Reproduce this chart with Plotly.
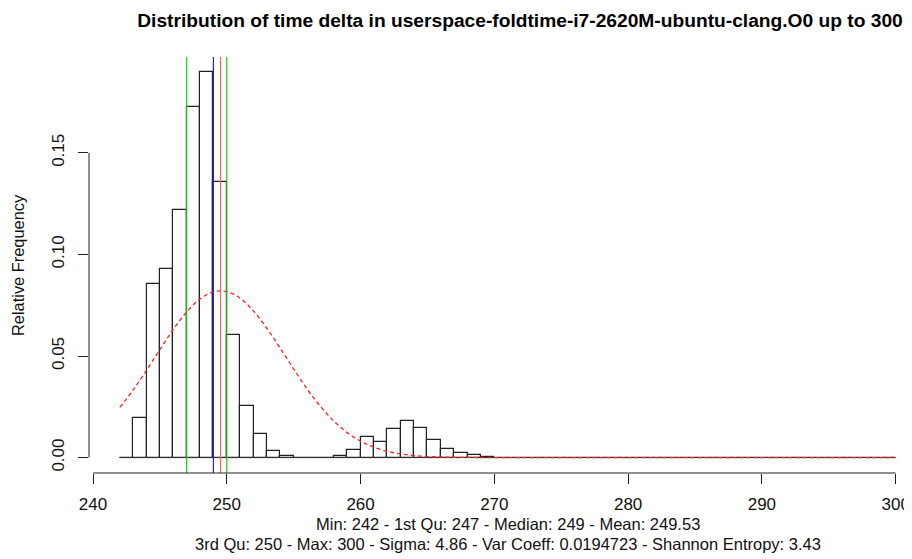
import plotly.graph_objects as go

# ---- data ----
bin_left = list(range(242, 300))          # histogram bins [a, a+1)
rel_freq = [0.0, 0.0193, 0.0855, 0.0928, 0.1217, 0.1724, 0.1896, 0.1356,
            0.0604, 0.0252, 0.0116, 0.0033, 0.0008, 0.0, 0.0, 0.0,
            0.0010, 0.0038, 0.0103, 0.0079, 0.0141, 0.0180, 0.0146, 0.0088,
            0.0043, 0.0025, 0.0013, 0.0003] + [0.0] * 30
bin_edges = bin_left + [bin_left[-1] + 1]

curve_x = [242, 243, 244, 245, 246, 247, 248, 249, 250, 251, 252, 253, 254,
           255, 256, 257, 258, 259, 260, 261, 262, 263, 264, 265, 266, 267,
           268, 270, 280, 300]
curve_y = [0.0247, 0.0333, 0.0430, 0.0532, 0.0631, 0.0717, 0.0781, 0.0816,
           0.0817, 0.0784, 0.0721, 0.0636, 0.0538, 0.0436, 0.0338, 0.0252,
           0.0180, 0.0123, 0.0081, 0.0051, 0.0031, 0.0018, 0.0010, 0.0005,
           0.0003, 0.0001, 0.0001, 0.0, 0.0, 0.0]

q1, median, mean, q3 = 247, 249, 249.53, 250

x_ticks = [240, 250, 260, 270, 280, 290, 300]
y_ticks = [0.0, 0.05, 0.10, 0.15]
y_tick_text = ["0.00", "0.05", "0.10", "0.15"]

title = "Distribution of time delta in userspace-foldtime-i7-2620M-ubuntu-clang.O0 up to 300"
sub1 = "Min: 242 - 1st Qu: 247 - Median: 249 - Mean: 249.53"
sub2 = "3rd Qu: 250 - Max: 300 - Sigma: 4.86 - Var Coeff: 0.0194723 - Shannon Entropy: 3.43"

FONT = "Liberation Sans"
# page body has an 8px margin, so the figure is sized/positioned to compensate
W, H = 904, 551
L, R_, T, B = 81, 0, 49, 86
PW, PH = W - L - R_, H - T - B
BOTTOM = H - B

fig = go.Figure()

# zero-height bins drawn as a baseline (as R does)
fig.add_trace(go.Scatter(x=[bin_edges[0], bin_edges[-1]], y=[0, 0], mode="lines",
                         line=dict(color="#333333", width=1), hoverinfo="skip",
                         showlegend=False))
fig.add_trace(go.Bar(x=bin_left, y=rel_freq, offset=0, width=1,
                     marker=dict(color="white", line=dict(color="#222222", width=1.2)),
                     showlegend=False))
fig.add_trace(go.Scatter(x=curve_x, y=curve_y, mode="lines",
                         line=dict(color="#ff2020", width=1.3, dash="4px,3px", shape="spline"),
                         showlegend=False))

for xv, col in [(q1, "#10d010"), (q3, "#10d010"), (median, "#2020ff"), (mean, "#ff6060")]:
    fig.add_shape(type="line", xref="x", yref="paper", x0=xv, x1=xv, y0=0, y1=1,
                  line=dict(color=col, width=1.2))

# R-style axis lines spanning only the tick range
fig.add_shape(type="line", xref="x", yref="paper", x0=x_ticks[0], x1=x_ticks[-1],
              y0=0, y1=0, line=dict(color="#222222", width=1))
fig.add_shape(type="line", xref="paper", yref="y", x0=0, x1=0,
              y0=y_ticks[0], y1=y_ticks[-1], line=dict(color="#222222", width=1))

fig.update_layout(
    width=W, height=H,
    margin=dict(l=L, r=R_, t=T, b=B),
    paper_bgcolor="white", plot_bgcolor="white",
    font=dict(family=FONT, color="#111111", size=16.5),
    bargap=0,
    title=dict(text="<b>" + title + "</b>", x=512 / W, xanchor="center",
               xref="container", y=1 - 12 / H, yanchor="middle", yref="container",
               font=dict(size=19.2, family=FONT, color="black")),
    xaxis=dict(range=[239.70, 301.22], tickvals=x_ticks, ticks="outside", ticklen=10,
               tickcolor="#222222", showline=False, showgrid=False, zeroline=False,
               tickfont=dict(size=17), ticklabelstandoff=6),
    yaxis=dict(range=[-0.00758, 0.19718], tickvals=y_ticks, ticktext=y_tick_text,
               ticks="outside", ticklen=10, tickcolor="#222222", tickangle=-90,
               showline=False, showgrid=False, zeroline=False, tickfont=dict(size=17),
               ticklabelstandoff=7),
)

cx = (500 - L) / PW
fig.add_annotation(text=sub1, xref="paper", yref="paper", x=cx, y=-(516 - BOTTOM) / PH,
                   showarrow=False, xanchor="center", yanchor="middle", font=dict(size=16.5))
fig.add_annotation(text=sub2, xref="paper", yref="paper", x=cx, y=-(536 - BOTTOM) / PH,
                   showarrow=False, xanchor="center", yanchor="middle", font=dict(size=16.5))
fig.add_annotation(text="Relative Frequency", xref="paper", yref="paper",
                   x=-(L - 10) / PW, y=0.5, textangle=-90, showarrow=False,
                   xanchor="center", yanchor="middle", font=dict(size=16.4))

fig.write_html("out.html")
